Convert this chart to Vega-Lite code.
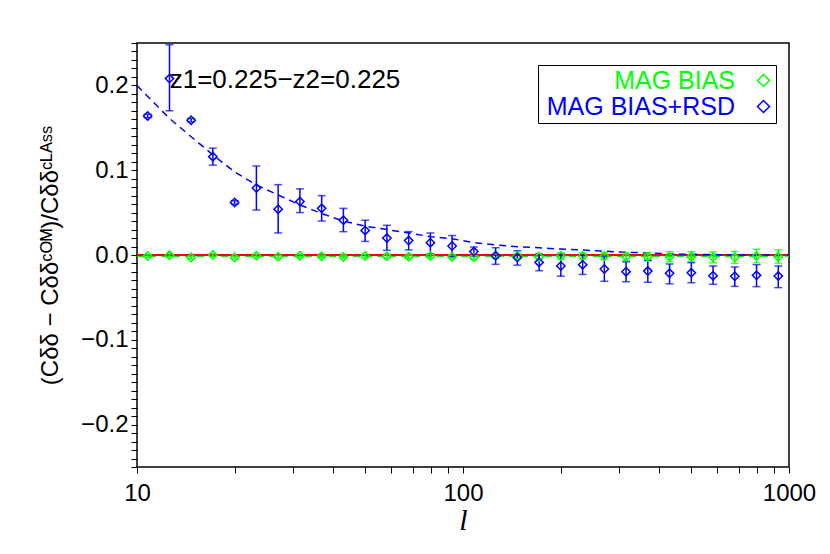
{
  "$schema": "https://vega.github.io/schema/vega-lite/v6.json",
  "width": 652,
  "height": 424,
  "autosize": "none",
  "padding": {"left": 137, "top": 43, "right": 41, "bottom": 87},
  "background": "white",
  "config": {
    "view": {"stroke": "black", "strokeWidth": 1.5},
    "font": "Liberation Sans",
    "axis": {
      "domain": false, "ticks": true, "tickColor": "black", "tickWidth": 1, "tickOpacity": 1,
      "labelColor": "black", "labelFont": "Liberation Sans", "labelFontSize": 24,
      "labelOverlap": false, "labelFlush": false, "labelBound": false,
      "titleColor": "black", "titleFontWeight": "normal",
      "grid": false
    }
  },
  "datasets": {
    "pts": [
      {"l": 10.78, "s": "MAG BIAS", "v": -0.0012, "lo": -0.0027, "hi": 0.0003},
      {"l": 12.58, "s": "MAG BIAS", "v": -0.0004, "lo": -0.0024, "hi": 0.0016},
      {"l": 14.66, "s": "MAG BIAS", "v": -0.003, "lo": -0.0045, "hi": -0.0015},
      {"l": 17.09, "s": "MAG BIAS", "v": 0.0, "lo": -0.0015, "hi": 0.0015},
      {"l": 19.93, "s": "MAG BIAS", "v": -0.003, "lo": -0.0045, "hi": -0.0015},
      {"l": 23.24, "s": "MAG BIAS", "v": -0.0008, "lo": -0.0023, "hi": 0.0007},
      {"l": 27.10, "s": "MAG BIAS", "v": -0.002, "lo": -0.0035, "hi": -0.0005},
      {"l": 31.60, "s": "MAG BIAS", "v": -0.0008, "lo": -0.0023, "hi": 0.0007},
      {"l": 36.85, "s": "MAG BIAS", "v": -0.0016, "lo": -0.0031, "hi": -0.0001},
      {"l": 42.97, "s": "MAG BIAS", "v": -0.0024, "lo": -0.0039, "hi": -0.0009},
      {"l": 50.10, "s": "MAG BIAS", "v": -0.0012, "lo": -0.0032, "hi": 0.0008},
      {"l": 58.42, "s": "MAG BIAS", "v": -0.0016, "lo": -0.0036, "hi": 0.0004},
      {"l": 68.12, "s": "MAG BIAS", "v": -0.002, "lo": -0.004, "hi": 0.0},
      {"l": 79.43, "s": "MAG BIAS", "v": -0.0012, "lo": -0.0032, "hi": 0.0008},
      {"l": 92.61, "s": "MAG BIAS", "v": -0.002, "lo": -0.004, "hi": 0.0},
      {"l": 107.99, "s": "MAG BIAS", "v": -0.0028, "lo": -0.0048, "hi": -0.0008},
      {"l": 125.9, "s": "MAG BIAS", "v": -0.0012, "lo": -0.0037, "hi": 0.0013},
      {"l": 146.8, "s": "MAG BIAS", "v": -0.0012, "lo": -0.0042, "hi": 0.0018},
      {"l": 171.2, "s": "MAG BIAS", "v": -0.002, "lo": -0.005, "hi": 0.001},
      {"l": 199.6, "s": "MAG BIAS", "v": -0.0012, "lo": -0.0047, "hi": 0.0023},
      {"l": 232.8, "s": "MAG BIAS", "v": -0.0012, "lo": -0.0047, "hi": 0.0023},
      {"l": 271.4, "s": "MAG BIAS", "v": -0.0012, "lo": -0.0052, "hi": 0.0028},
      {"l": 316.4, "s": "MAG BIAS", "v": -0.002, "lo": -0.0065, "hi": 0.0025},
      {"l": 368.9, "s": "MAG BIAS", "v": -0.002, "lo": -0.007, "hi": 0.003},
      {"l": 430.2, "s": "MAG BIAS", "v": -0.002, "lo": -0.008, "hi": 0.004},
      {"l": 501.6, "s": "MAG BIAS", "v": -0.002, "lo": -0.008, "hi": 0.004},
      {"l": 584.8, "s": "MAG BIAS", "v": -0.0028, "lo": -0.0093, "hi": 0.0037},
      {"l": 681.9, "s": "MAG BIAS", "v": -0.0028, "lo": -0.0098, "hi": 0.0042},
      {"l": 795.1, "s": "MAG BIAS", "v": -0.0012, "lo": -0.0092, "hi": 0.0068},
      {"l": 927.1, "s": "MAG BIAS", "v": -0.002, "lo": -0.010, "hi": 0.006},
      {"l": 10.78, "s": "MAG BIAS+RSD", "v": 0.164, "lo": 0.162, "hi": 0.166},
      {"l": 12.58, "s": "MAG BIAS+RSD", "v": 0.208, "lo": 0.170, "hi": 0.248},
      {"l": 14.66, "s": "MAG BIAS+RSD", "v": 0.159, "lo": 0.157, "hi": 0.161},
      {"l": 17.09, "s": "MAG BIAS+RSD", "v": 0.116, "lo": 0.106, "hi": 0.126},
      {"l": 19.93, "s": "MAG BIAS+RSD", "v": 0.062, "lo": 0.060, "hi": 0.064},
      {"l": 23.24, "s": "MAG BIAS+RSD", "v": 0.079, "lo": 0.053, "hi": 0.105},
      {"l": 27.10, "s": "MAG BIAS+RSD", "v": 0.054, "lo": 0.026, "hi": 0.083},
      {"l": 31.60, "s": "MAG BIAS+RSD", "v": 0.063, "lo": 0.050, "hi": 0.078},
      {"l": 36.85, "s": "MAG BIAS+RSD", "v": 0.055, "lo": 0.040, "hi": 0.070},
      {"l": 42.97, "s": "MAG BIAS+RSD", "v": 0.041, "lo": 0.0275, "hi": 0.055},
      {"l": 50.10, "s": "MAG BIAS+RSD", "v": 0.029, "lo": 0.016, "hi": 0.041},
      {"l": 58.42, "s": "MAG BIAS+RSD", "v": 0.020, "lo": 0.0055, "hi": 0.035},
      {"l": 68.12, "s": "MAG BIAS+RSD", "v": 0.017, "lo": 0.006, "hi": 0.0275},
      {"l": 79.43, "s": "MAG BIAS+RSD", "v": 0.0145, "lo": 0.0015, "hi": 0.026},
      {"l": 92.61, "s": "MAG BIAS+RSD", "v": 0.0106, "lo": -0.002, "hi": 0.023},
      {"l": 107.99, "s": "MAG BIAS+RSD", "v": 0.004, "lo": -0.0016, "hi": 0.0094},
      {"l": 125.9, "s": "MAG BIAS+RSD", "v": -0.001, "lo": -0.011, "hi": 0.0086},
      {"l": 146.8, "s": "MAG BIAS+RSD", "v": -0.003, "lo": -0.012, "hi": 0.005},
      {"l": 171.2, "s": "MAG BIAS+RSD", "v": -0.0087, "lo": -0.0185, "hi": 0.001},
      {"l": 199.6, "s": "MAG BIAS+RSD", "v": -0.013, "lo": -0.025, "hi": 0.001},
      {"l": 232.8, "s": "MAG BIAS+RSD", "v": -0.0114, "lo": -0.023, "hi": 0.0},
      {"l": 271.4, "s": "MAG BIAS+RSD", "v": -0.0165, "lo": -0.031, "hi": -0.002},
      {"l": 316.4, "s": "MAG BIAS+RSD", "v": -0.0197, "lo": -0.0315, "hi": -0.008},
      {"l": 368.9, "s": "MAG BIAS+RSD", "v": -0.019, "lo": -0.032, "hi": -0.0063},
      {"l": 430.2, "s": "MAG BIAS+RSD", "v": -0.0216, "lo": -0.034, "hi": -0.0106},
      {"l": 501.6, "s": "MAG BIAS+RSD", "v": -0.021, "lo": -0.0327, "hi": -0.009},
      {"l": 584.8, "s": "MAG BIAS+RSD", "v": -0.0244, "lo": -0.0346, "hi": -0.013},
      {"l": 681.9, "s": "MAG BIAS+RSD", "v": -0.0251, "lo": -0.037, "hi": -0.0141},
      {"l": 795.1, "s": "MAG BIAS+RSD", "v": -0.024, "lo": -0.0373, "hi": -0.0114},
      {"l": 927.1, "s": "MAG BIAS+RSD", "v": -0.0248, "lo": -0.0385, "hi": -0.013}
    ],
    "theory": [
      {"l": 10, "t": 0.200}, {"l": 10.78, "t": 0.187}, {"l": 12.58, "t": 0.161},
      {"l": 14.66, "t": 0.1395}, {"l": 17.09, "t": 0.118}, {"l": 19.93, "t": 0.098},
      {"l": 23.24, "t": 0.0825}, {"l": 27.10, "t": 0.0708}, {"l": 31.60, "t": 0.059},
      {"l": 36.85, "t": 0.049}, {"l": 42.97, "t": 0.040}, {"l": 50.10, "t": 0.034},
      {"l": 58.42, "t": 0.030}, {"l": 68.12, "t": 0.026}, {"l": 79.43, "t": 0.0216},
      {"l": 92.61, "t": 0.0192}, {"l": 107.99, "t": 0.0145}, {"l": 125.9, "t": 0.0118},
      {"l": 146.8, "t": 0.0098}, {"l": 171.2, "t": 0.0086}, {"l": 199.6, "t": 0.007},
      {"l": 232.8, "t": 0.0058}, {"l": 271.4, "t": 0.0045}, {"l": 316.4, "t": 0.0032},
      {"l": 368.9, "t": 0.0025}, {"l": 430.2, "t": 0.0012}, {"l": 501.6, "t": 0.0008},
      {"l": 584.8, "t": 0.0005}, {"l": 681.9, "t": 0.0003}, {"l": 795.1, "t": 0.0002},
      {"l": 927.1, "t": 0.0001}, {"l": 1000, "t": 0.0}
    ],
    "mbline": [{"l": 10, "t": -0.0015}, {"l": 1000, "t": -0.0015}],
    "note": [{"l": 12.6, "y": 0.197, "txt": "z1=0.225−z2=0.225"}]
  },
  "layer": [
    {
      "data": {"name": "mbline"},
      "mark": {"type": "line", "color": "#00ff00", "strokeDash": [7, 5], "strokeWidth": 1.5},
      "encoding": {
        "x": {"field": "l", "type": "quantitative", "scale": {"type": "log", "domain": [10, 1000], "nice": false}, "axis": null},
        "y": {"field": "t", "type": "quantitative", "scale": {"domain": [-0.25, 0.25], "nice": false, "zero": false}, "axis": null}
      }
    },
    {
      "data": {"name": "mbline"},
      "mark": {"type": "rule", "color": "#ff0000", "strokeWidth": 2},
      "encoding": {"y": {"datum": 0, "type": "quantitative", "axis": null}}
    },
    {
      "data": {"name": "theory"},
      "mark": {"type": "line", "color": "#0000ff", "strokeDash": [7, 5], "strokeWidth": 1.5},
      "encoding": {
        "x": {"field": "l", "type": "quantitative", "axis": null},
        "y": {"field": "t", "type": "quantitative", "axis": null}
      }
    },
    {
      "data": {"name": "pts"},
      "mark": {"type": "rule", "strokeWidth": 1.5},
      "encoding": {
        "x": {"field": "l", "type": "quantitative", "axis": null},
        "y": {"field": "lo", "type": "quantitative", "axis": null},
        "y2": {"field": "hi"},
        "color": {"field": "s", "type": "nominal", "scale": {"domain": ["MAG BIAS", "MAG BIAS+RSD"], "range": ["#00ff00", "#0000ff"]}, "legend": null}
      }
    },
    {
      "data": {"name": "pts"},
      "mark": {"type": "tick", "orient": "horizontal", "size": 8, "thickness": 1.5},
      "encoding": {
        "x": {"field": "l", "type": "quantitative", "axis": null},
        "y": {"field": "lo", "type": "quantitative", "axis": null},
        "color": {"field": "s", "type": "nominal", "legend": null}
      }
    },
    {
      "data": {"name": "pts"},
      "mark": {"type": "tick", "orient": "horizontal", "size": 8, "thickness": 1.5},
      "encoding": {
        "x": {"field": "l", "type": "quantitative", "axis": null},
        "y": {"field": "hi", "type": "quantitative", "axis": null},
        "color": {"field": "s", "type": "nominal", "legend": null}
      }
    },
    {
      "data": {"name": "pts"},
      "mark": {"type": "point", "shape": "diamond", "filled": false, "size": 70, "strokeWidth": 1.5, "opacity": 1},
      "encoding": {
        "x": {"field": "l", "type": "quantitative", "scale": {"type": "log", "domain": [10, 1000], "nice": false},
          "axis": {"orient": "bottom", "values": [10, 20, 30, 40, 50, 60, 70, 80, 90, 100, 200, 300, 400, 500, 600, 700, 800, 900, 1000],
            "format": "d",
            "labelExpr": "(datum.value == 10 || datum.value == 100 || datum.value == 1000) ? datum.label : ''",
            "tickSize": 6,
            "labelPadding": 8,
            "title": "l", "titleFont": "Liberation Serif", "titleFontStyle": "italic", "titleFontSize": 30, "titlePadding": 0}},
        "y": {"field": "v", "type": "quantitative", "scale": {"domain": [-0.25, 0.25], "nice": false, "zero": false},
          "axis": {"orient": "left", "values": [-0.25, -0.24, -0.23, -0.22, -0.21, -0.2, -0.19, -0.18, -0.17, -0.16, -0.15, -0.14, -0.13, -0.12, -0.11, -0.1, -0.09, -0.08, -0.07, -0.06, -0.05, -0.04, -0.03, -0.02, -0.01, 0, 0.01, 0.02, 0.03, 0.04, 0.05, 0.06, 0.07, 0.08, 0.09, 0.1, 0.11, 0.12, 0.13, 0.14, 0.15, 0.16, 0.17, 0.18, 0.19, 0.2, 0.21, 0.22, 0.23, 0.24, 0.25],
            "labelExpr": "abs(datum.value*10 - round(datum.value*10)) < 0.000001 ? format(datum.value, '.1f') : ''",
            "tickSize": 6,
            "labelPadding": 3,
            "title": "(Cδδ − Cδδᶜᴼᴹ)/Cδδᶜᴸᴬˢˢ", "titleFontSize": 24, "titlePadding": 18}},
        "color": {"field": "s", "type": "nominal",
          "legend": {
            "orient": "none", "legendX": 401, "legendY": 22, "title": null,
            "symbolType": "diamond", "symbolSize": 144, "symbolStrokeWidth": 1.5, "symbolFillColor": "transparent",
            "labelFont": "Liberation Sans", "labelFontSize": 25, "labelAlign": "right", "labelOffset": -41,
            "labelColor": {"expr": "datum.value === 'MAG BIAS' ? '#00ff00' : '#0000ff'"},
            "symbolOffset": 210, "labelLimit": 0, "strokeColor": "black", "fillColor": "white",
            "padding": 3, "rowPadding": -11
          }}
      }
    },
    {
      "data": {"name": "note"},
      "mark": {"type": "text", "align": "left", "baseline": "alphabetic", "font": "Liberation Sans", "fontSize": 26, "color": "black"},
      "encoding": {
        "x": {"field": "l", "type": "quantitative", "axis": null},
        "y": {"field": "y", "type": "quantitative", "axis": null},
        "text": {"field": "txt"}
      }
    }
  ],
  "resolve": {"axis": {"x": "independent", "y": "independent"}, "legend": {"color": "independent"}}
}
